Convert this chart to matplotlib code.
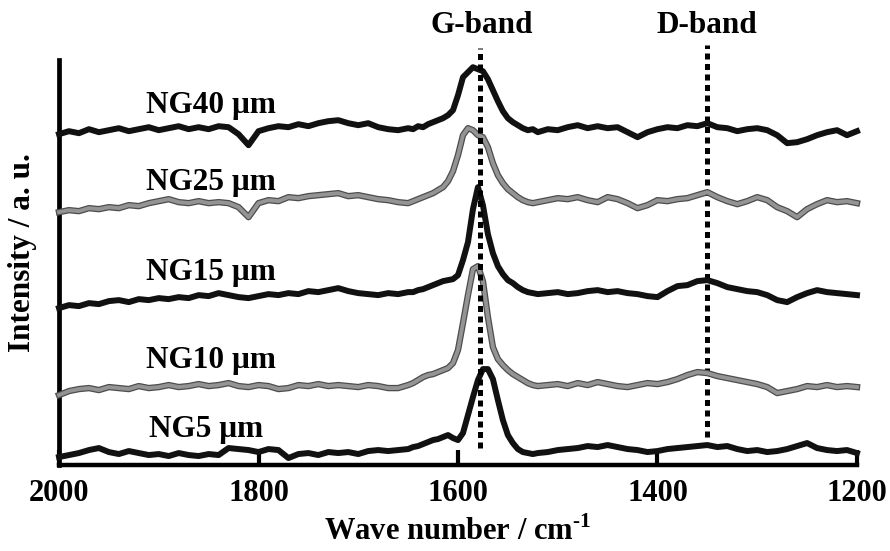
import numpy as np
import matplotlib
matplotlib.use('Agg')
import matplotlib.pyplot as plt

plt.rcParams['font.family'] = ['Liberation Serif', 'DejaVu Serif']
plt.rcParams['font.weight'] = 'bold'
plt.rcParams['mathtext.fontset'] = 'custom'
plt.rcParams['mathtext.rm'] = 'Liberation Serif:bold'
plt.rcParams['mathtext.bf'] = 'Liberation Serif:bold'

# wavenumber grid (cm-1), finer around the G peak
wn = np.concatenate([np.arange(2000, 1649, -10),
                     np.arange(1645, 1519, -5),
                     np.arange(1510, 1199, -10)])

# stacked Raman spectra, a.u.
ng40 = [331, 334, 332, 336, 333, 335, 337, 334, 336, 338, 335, 337, 339, 336, 338, 336,
        339, 338, 331, 320, 334, 337, 339, 338, 341, 339, 342, 344, 345, 342, 340, 342,
        338, 336, 335, 337,
        336, 339, 338, 341, 343, 345, 347, 350, 355, 370, 388, 393, 398, 396, 394, 386,
        375, 364, 354, 347, 343, 340, 337, 335, 336, 333,
        336, 335, 338, 340, 337, 339, 337, 338, 333, 328, 333, 336, 338, 337, 340, 339,
        342, 338, 337, 334, 336, 337, 335, 330, 322, 323, 326, 330, 333, 335, 330, 334]
ng25 = [253, 255, 254, 257, 256, 258, 257, 260, 259, 262, 264, 266, 263, 262, 264, 262,
        263, 262, 258, 248, 262, 265, 264, 268, 267, 269, 270, 271, 272, 269, 270, 268,
        266, 265, 263, 262,
        264, 266, 268, 270, 272, 275, 278, 284, 294, 310, 330, 337, 335, 330, 328, 318,
        302, 290, 282, 276, 272, 268, 265, 263, 262, 263,
        265, 267, 266, 268, 265, 263, 268, 266, 262, 257, 260, 265, 264, 266, 267, 270,
        273, 268, 264, 261, 264, 268, 265, 258, 254, 248, 256, 261, 265, 263, 264, 262]
ng15 = [157, 160, 159, 162, 161, 164, 165, 163, 166, 165, 167, 166, 168, 167, 170, 169,
        172, 170, 168, 167, 169, 171, 170, 172, 171, 174, 173, 175, 177, 174, 172, 171,
        170, 172, 171, 173,
        173, 175, 176, 178, 180, 182, 184, 185, 186, 190, 205, 223, 256, 278, 260, 231,
        212, 199, 191, 185, 182, 178, 175, 173, 172, 171,
        172, 173, 171, 172, 174, 175, 173, 174, 172, 171, 169, 168, 174, 179, 180, 184,
        185, 182, 178, 176, 174, 173, 170, 165, 163, 168, 172, 175, 173, 172, 171, 170]
ng10 = [70, 74, 76, 77, 75, 78, 77, 76, 79, 77, 78, 80, 78, 79, 81, 79,
        80, 82, 79, 78, 80, 79, 76, 77, 80, 79, 81, 79, 80, 79, 78, 80,
        79, 77, 77, 80,
        82, 85, 88, 90, 91, 93, 95, 97, 102, 115, 142, 170, 196, 199, 184, 148,
        118, 106, 100, 95, 91, 88, 85, 82, 80, 79,
        80, 81, 79, 82, 80, 83, 81, 79, 78, 80, 82, 81, 83, 86, 90, 93,
        92, 89, 87, 85, 83, 81, 78, 72, 74, 76, 79, 78, 80, 78, 79, 78]
ng5 = [8, 10, 12, 15, 17, 13, 11, 14, 12, 10, 11, 9, 12, 10, 9, 11,
       10, 17, 16, 15, 13, 16, 15, 7, 11, 12, 10, 13, 12, 13, 11, 14,
       15, 14, 15, 16,
       18, 19, 21, 23, 25, 26, 28, 30, 27, 25, 32, 50, 68, 85, 96, 96,
       86, 65, 45, 30, 22, 16, 13, 12, 11, 12,
       13, 15, 16, 17, 19, 18, 20, 18, 16, 15, 13, 14, 16, 17, 18, 19,
       20, 18, 19, 16, 14, 15, 13, 14, 16, 19, 22, 17, 15, 14, 15, 12]

names = ['NG40 \u03bcm', 'NG25 \u03bcm', 'NG15 \u03bcm', 'NG10 \u03bcm', 'NG5 \u03bcm']
label_x = [1848, 1848, 1848, 1848, 1853]
label_y = [352, 275, 185, 97, 28]
band_pos = [1578, 1350]
band_names = ['G-band', 'D-band']

fig = plt.figure(figsize=(8.9, 5.51), dpi=100)
ax = fig.add_axes([0.0663, 0.156, 0.8966, 0.771])

spectra = [ng40, ng25, ng15, ng10, ng5]
for i, s in enumerate(spectra):
    if i % 2 == 0:
        ax.plot(wn, s, color='#111111', lw=4.3, solid_joinstyle='round', zorder=3, clip_on=False)
    else:
        # grey traces: dark rim under a lighter core
        ax.plot(wn, s, color='0.3', lw=4.6, solid_joinstyle='round', zorder=3, clip_on=False)
        ax.plot(wn, s, color='0.58', lw=2.8, solid_joinstyle='round', zorder=3, clip_on=False)
    ax.text(label_x[i], label_y[i], names[i], ha='center', va='baseline',
            fontsize=22.5, fontweight='bold')

# dotted guide lines for the bands
ax.plot([band_pos[0], band_pos[0]], [17, 417], color='black', lw=3.6,
        linestyle=(0, (1.2, 0.9)), zorder=4, clip_on=False)
ax.plot([band_pos[1], band_pos[1]], [28, 420], color='black', lw=3.6,
        linestyle=(0, (1.2, 0.9)), zorder=2, clip_on=False)
for p, t in zip([1576, 1350], band_names):
    ax.text(p, 432, t, ha='center', va='baseline', fontsize=22.5, fontweight='bold')

ax.set_xlim(2000, 1200)
ax.set_ylim(0, 425)
ax.set_xticks([2000, 1800, 1600, 1400, 1200])
ax.set_yticks([])
ax.tick_params(axis='x', direction='in', length=11, width=3, labelsize=22, pad=10)
for lab in ax.get_xticklabels():
    lab.set_fontweight('bold')

ax.spines['top'].set_visible(False)
ax.spines['right'].set_visible(False)
ax.spines['left'].set_linewidth(3.4)
ax.spines['bottom'].set_linewidth(3.2)
ax.spines['left'].set_bounds(0, 405)

ax.set_xlabel(r'Wave number / cm$^{\text{-1}}$', fontsize=22, fontweight='bold', labelpad=6)
ax.set_ylabel('Intensity / a. u.', fontsize=22.5, fontweight='bold')
ax.yaxis.set_label_coords(-0.027, 0.5)

plt.savefig('out.png', dpi=100)
